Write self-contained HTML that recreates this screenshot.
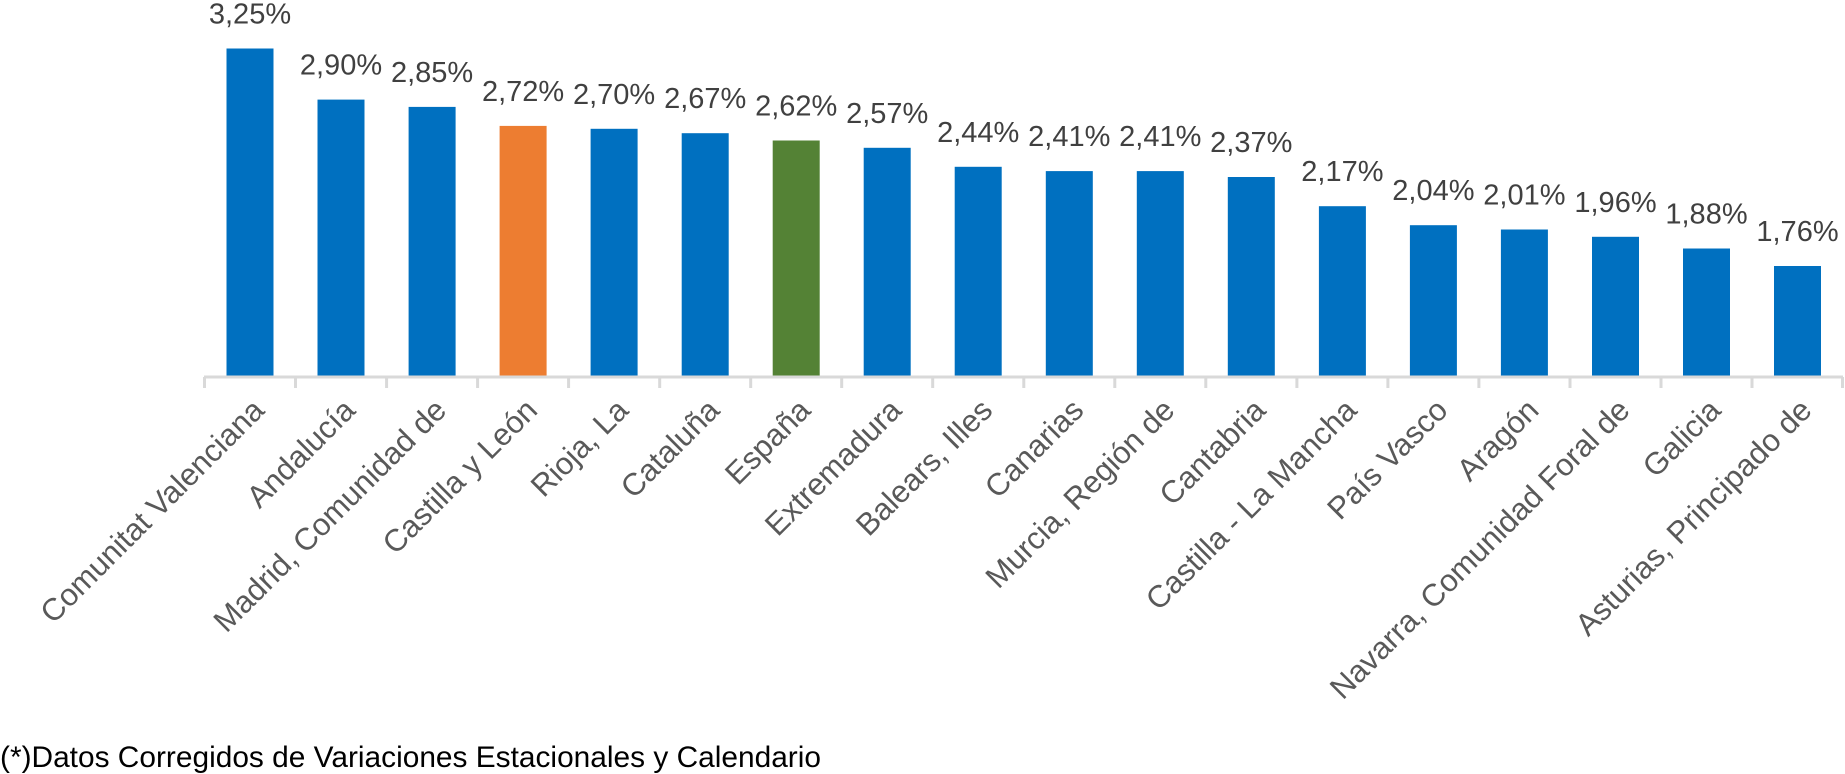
<!DOCTYPE html>
<html><head><meta charset="utf-8"><style>
html,body{margin:0;padding:0;background:#fff;}
svg{display:block;}
text{font-family:"Liberation Sans",sans-serif;}
.v{font-size:29px;fill:#404040;text-anchor:middle;}
.c{font-size:31px;fill:#595959;text-anchor:end;}
</style></head><body>
<svg width="1845" height="774" viewBox="0 0 1845 774" xmlns="http://www.w3.org/2000/svg">
<g>
<rect x="226.5" y="48.5" width="47" height="328.5" fill="#0070C0"/>
<rect x="317.5" y="99.6" width="47" height="277.4" fill="#0070C0"/>
<rect x="408.6" y="106.9" width="47" height="270.1" fill="#0070C0"/>
<rect x="499.6" y="125.9" width="47" height="251.1" fill="#ED7D31"/>
<rect x="590.6" y="128.8" width="47" height="248.2" fill="#0070C0"/>
<rect x="681.7" y="133.2" width="47" height="243.8" fill="#0070C0"/>
<rect x="772.7" y="140.5" width="47" height="236.5" fill="#548235"/>
<rect x="863.7" y="147.8" width="47" height="229.2" fill="#0070C0"/>
<rect x="954.7" y="166.8" width="47" height="210.2" fill="#0070C0"/>
<rect x="1045.8" y="171.1" width="47" height="205.9" fill="#0070C0"/>
<rect x="1136.8" y="171.1" width="47" height="205.9" fill="#0070C0"/>
<rect x="1227.8" y="177.0" width="47" height="200.0" fill="#0070C0"/>
<rect x="1318.9" y="206.2" width="47" height="170.8" fill="#0070C0"/>
<rect x="1409.9" y="225.2" width="47" height="151.8" fill="#0070C0"/>
<rect x="1500.9" y="229.5" width="47" height="147.5" fill="#0070C0"/>
<rect x="1592.0" y="236.8" width="47" height="140.2" fill="#0070C0"/>
<rect x="1683.0" y="248.5" width="47" height="128.5" fill="#0070C0"/>
<rect x="1774.0" y="266.0" width="47" height="111.0" fill="#0070C0"/>
</g>
<g>
<text class="v" x="250.0" y="23.5">3,25%</text>
<text class="v" x="341.0" y="74.6">2,90%</text>
<text class="v" x="432.1" y="81.9">2,85%</text>
<text class="v" x="523.1" y="100.9">2,72%</text>
<text class="v" x="614.1" y="103.8">2,70%</text>
<text class="v" x="705.2" y="108.2">2,67%</text>
<text class="v" x="796.2" y="115.5">2,62%</text>
<text class="v" x="887.2" y="122.8">2,57%</text>
<text class="v" x="978.2" y="141.8">2,44%</text>
<text class="v" x="1069.3" y="146.1">2,41%</text>
<text class="v" x="1160.3" y="146.1">2,41%</text>
<text class="v" x="1251.3" y="152.0">2,37%</text>
<text class="v" x="1342.4" y="181.2">2,17%</text>
<text class="v" x="1433.4" y="200.2">2,04%</text>
<text class="v" x="1524.4" y="204.5">2,01%</text>
<text class="v" x="1615.5" y="211.8">1,96%</text>
<text class="v" x="1706.5" y="223.5">1,88%</text>
<text class="v" x="1797.5" y="241.0">1,76%</text>
</g>
<g>
<g transform="translate(266.0,412) rotate(-45)"><text class="c">Comunitat Valenciana</text></g>
<g transform="translate(357.0,412) rotate(-45)"><text class="c">Andalucía</text></g>
<g transform="translate(448.1,412) rotate(-45)"><text class="c">Madrid, Comunidad de</text></g>
<g transform="translate(539.1,412) rotate(-45)"><text class="c">Castilla y León</text></g>
<g transform="translate(630.1,412) rotate(-45)"><text class="c">Rioja, La</text></g>
<g transform="translate(721.2,412) rotate(-45)"><text class="c">Cataluña</text></g>
<g transform="translate(812.2,412) rotate(-45)"><text class="c">España</text></g>
<g transform="translate(903.2,412) rotate(-45)"><text class="c">Extremadura</text></g>
<g transform="translate(994.2,412) rotate(-45)"><text class="c">Balears, Illes</text></g>
<g transform="translate(1085.3,412) rotate(-45)"><text class="c">Canarias</text></g>
<g transform="translate(1176.3,412) rotate(-45)"><text class="c">Murcia, Región de</text></g>
<g transform="translate(1267.3,412) rotate(-45)"><text class="c">Cantabria</text></g>
<g transform="translate(1358.4,412) rotate(-45)"><text class="c">Castilla - La Mancha</text></g>
<g transform="translate(1449.4,412) rotate(-45)"><text class="c">País Vasco</text></g>
<g transform="translate(1540.4,412) rotate(-45)"><text class="c">Aragón</text></g>
<g transform="translate(1631.5,412) rotate(-45)"><text class="c">Navarra, Comunidad Foral de</text></g>
<g transform="translate(1722.5,412) rotate(-45)"><text class="c">Galicia</text></g>
<g transform="translate(1813.5,412) rotate(-45)"><text class="c">Asturias, Principado de</text></g>
</g>
<g stroke="#D9D9D9" stroke-width="3">
<line x1="204" y1="377" x2="1843" y2="377"/>
<line x1="204.5" y1="377" x2="204.5" y2="388"/>
<line x1="295.5" y1="377" x2="295.5" y2="388"/>
<line x1="386.6" y1="377" x2="386.6" y2="388"/>
<line x1="477.6" y1="377" x2="477.6" y2="388"/>
<line x1="568.6" y1="377" x2="568.6" y2="388"/>
<line x1="659.7" y1="377" x2="659.7" y2="388"/>
<line x1="750.7" y1="377" x2="750.7" y2="388"/>
<line x1="841.7" y1="377" x2="841.7" y2="388"/>
<line x1="932.7" y1="377" x2="932.7" y2="388"/>
<line x1="1023.8" y1="377" x2="1023.8" y2="388"/>
<line x1="1114.8" y1="377" x2="1114.8" y2="388"/>
<line x1="1205.8" y1="377" x2="1205.8" y2="388"/>
<line x1="1296.9" y1="377" x2="1296.9" y2="388"/>
<line x1="1387.9" y1="377" x2="1387.9" y2="388"/>
<line x1="1478.9" y1="377" x2="1478.9" y2="388"/>
<line x1="1570.0" y1="377" x2="1570.0" y2="388"/>
<line x1="1661.0" y1="377" x2="1661.0" y2="388"/>
<line x1="1752.0" y1="377" x2="1752.0" y2="388"/>
<line x1="1842.5" y1="377" x2="1842.5" y2="388"/>
</g>
<text x="0" y="767" font-size="30" fill="#000" textLength="821" lengthAdjust="spacingAndGlyphs">(*)Datos Corregidos de Variaciones Estacionales y Calendario</text>
</svg>
</body></html>
